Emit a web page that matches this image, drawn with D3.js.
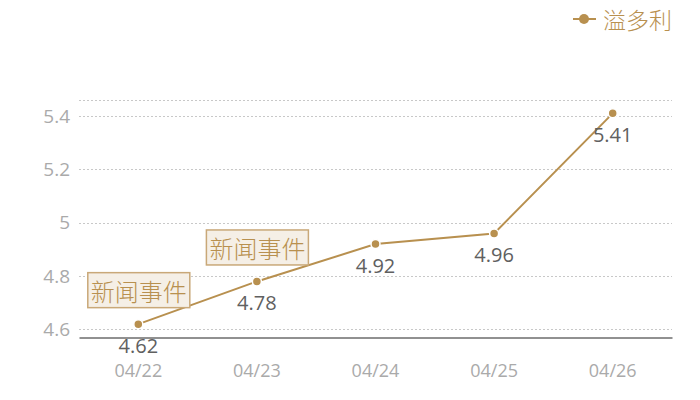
<!DOCTYPE html>
<html><head><meta charset="utf-8">
<script src="https://cdn.jsdelivr.net/npm/d3@7"></script>
<style>
html,body{margin:0;padding:0;background:#fff;}
svg{display:block;font-family:"Open Sans","Noto Sans CJK SC",sans-serif;}
</style></head>
<body><svg id="c" width="700" height="400"></svg>
<script>
const categories = ["04/22","04/23","04/24","04/25","04/26"];
const values = [4.62, 4.78, 4.92, 4.96, 5.41];
const seriesName = "溢多利";
const yTicks = [4.6, 4.8, 5.0, 5.2, 5.4];
const annotations = [{cat:"04/22", text:"新闻事件"}, {cat:"04/23", text:"新闻事件"}];

(function(){
const color = "#b8904f";
const svg = d3.select("#c");
const mLeft = 79, mRight = 672, mTop = 100, mBottom = 337.5;
const yMin = d3.min(values) - 0.05, yMax = d3.max(values) + 0.05;
const x = d3.scaleBand().domain(categories).range([mLeft, mRight]);
const y = d3.scaleLinear().domain([yMin, yMax]).range([mBottom, mTop]);
const cx = d => x(d) + x.bandwidth()/2;

// grid lines
const gridVals = yTicks.concat([yMax]);
svg.append("g").selectAll("line").data(gridVals).join("line")
  .attr("x1", mLeft).attr("x2", mRight)
  .attr("y1", d => Math.round(y(d)) + 0.5).attr("y2", d => Math.round(y(d)) + 0.5)
  .attr("stroke", "#c8c8c8").attr("stroke-width", 1).attr("stroke-dasharray", "2,2");

// y axis
const yAxis = d3.axisLeft(y).tickValues(yTicks).tickSize(0).tickPadding(9)
  .tickFormat(d => d3.format("~g")(d));
const ya = svg.append("g").attr("transform", `translate(${mLeft},0)`).call(yAxis);
ya.select(".domain").remove();
ya.selectAll("text").attr("fill", "#aaaaaa").style("font-size", "19px")
  .style("font-family", "'Open Sans',sans-serif");

// x axis
const xAxis = d3.axisBottom(x).tickSize(0).tickPadding(27);
const xa = svg.append("g").attr("transform", `translate(0,${mBottom})`).call(xAxis);
xa.select(".domain").attr("stroke", "#222").attr("stroke-width", 1);
xa.selectAll("text").attr("fill", "#aaaaaa").style("font-size", "18px")
  .style("font-family", "'Open Sans',sans-serif");

// line
const line = d3.line().x((d,i) => cx(categories[i])).y(d => y(d));
svg.append("path").datum(values).attr("d", line)
  .attr("fill", "none").attr("stroke", color).attr("stroke-width", 2);

// points
svg.append("g").selectAll("circle").data(values).join("circle")
  .attr("cx", (d,i) => cx(categories[i])).attr("cy", d => y(d)).attr("r", 4.5)
  .attr("fill", color).attr("stroke", "#fff").attr("stroke-width", 1.5);

// value labels
svg.append("g").selectAll("text").data(values).join("text")
  .attr("x", (d,i) => cx(categories[i])).attr("y", d => y(d) + 29)
  .attr("text-anchor", "middle").attr("fill", "#606060")
  .style("font-size", "20px").style("font-family", "'Open Sans',sans-serif")
  .text(d => d3.format(".2f")(d));

// annotations
annotations.forEach(a => {
  const i = categories.indexOf(a.cat);
  const px = cx(a.cat), py = y(values[i]);
  const w = 102, h = 35;
  const g = svg.append("g");
  g.append("rect").attr("x", px - w/2 + 0.5).attr("y", py - 17 - h + 0.5)
    .attr("width", w).attr("height", h)
    .attr("fill", "#f5efe6").attr("stroke", "#c9a878").attr("stroke-width", 1.5);
  g.append("text").attr("x", px + 0.5).attr("y", py - 17 - h/2 + 0.5)
    .attr("text-anchor", "middle").attr("dominant-baseline", "central")
    .attr("fill", color).style("font-size", "24px").style("font-weight", "300")
    .style("font-family", "'Noto Sans CJK SC',sans-serif").text(a.text);
});

// legend
const lg = svg.append("g").attr("transform", "translate(573,19)");
lg.append("line").attr("x1", 0).attr("x2", 23).attr("y1", 0).attr("y2", 0)
  .attr("stroke", color).attr("stroke-width", 2);
lg.append("circle").attr("cx", 11).attr("cy", 0).attr("r", 5).attr("fill", color);
lg.append("text").attr("x", 30).attr("y", 0).attr("dominant-baseline", "central")
  .attr("fill", color).style("font-size", "23px").style("font-weight", "300")
  .style("font-family", "'Noto Sans CJK SC',sans-serif").text(seriesName);
})();
</script></body></html>
